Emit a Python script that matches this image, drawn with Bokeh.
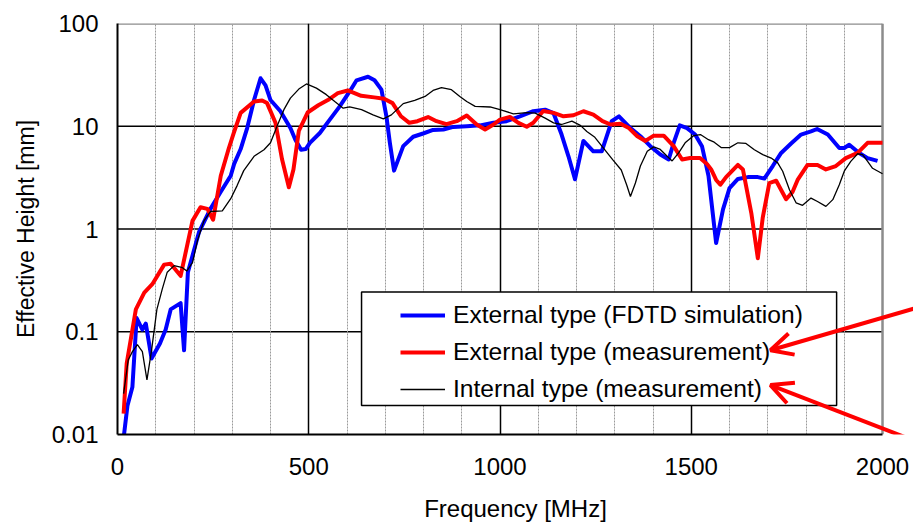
from bokeh.plotting import figure
from bokeh.models import (Range1d, FixedTicker, CustomJSTickFormatter, Legend, LegendItem,
                          BoxAnnotation, Arrow, OpenHead)
from bokeh.embed import file_html
from bokeh.resources import INLINE

# ---------------- data ----------------
fdtd_freq = [14, 26, 39, 50, 65, 74, 89, 111, 126, 139, 165, 174, 184, 196, 213, 243, 270, 296, 305,
             322, 339, 357, 374, 387, 400, 426, 452, 465, 480, 492, 503, 529, 555, 581, 607, 625, 655,
             672, 690, 703, 712, 723, 747, 773, 799, 825, 852, 878, 913, 948, 983, 1017, 1052, 1087,
             1118, 1140, 1161, 1179, 1196, 1218, 1244, 1266, 1292, 1311, 1341, 1367, 1393, 1419, 1441,
             1454, 1470, 1489, 1510, 1528, 1545, 1565, 1583, 1600, 1622, 1648, 1674, 1691, 1713, 1735,
             1761, 1787, 1813, 1829, 1857, 1887, 1900, 1913, 1939, 1961, 1987]
fdtd_height = [0.008, 0.019, 0.029, 0.136, 0.105, 0.12, 0.055, 0.077, 0.105, 0.165, 0.19, 0.066, 0.38,
               0.55, 0.93, 1.57, 2.3, 3.3, 4.3, 6.0, 9.6, 18, 29.3, 25, 18, 14, 9.6, 7.4, 5.9, 6.0, 6.9,
               8.6, 11.6, 15.6, 21.8, 28, 30.3, 28, 22.7, 12.5, 6.9, 3.7, 6.4, 7.9, 8.5, 9.2, 9.3, 9.85,
               10, 10.2, 10.8, 11.2, 12.5, 14, 14.5, 13.4, 8.3, 5.1, 3.05, 7.2, 5.7, 5.7, 11.2, 12.5,
               9.6, 8.0, 6.4, 5.3, 4.75, 6.9, 10.2, 9.6, 8.3, 6.4, 3.3, 0.73, 1.55, 2.5, 3.07, 3.2, 3.2,
               3.1, 4.1, 5.5, 6.8, 8.3, 8.9, 9.4, 8.3, 6.15, 6.15, 6.6, 5.5, 4.9, 4.6]

ext_meas_freq = [16, 24, 48, 70, 91, 122, 139, 165, 196, 217, 235, 250, 270, 291, 304, 322, 357, 378,
                 391, 413, 430, 448, 460, 474, 497, 525, 550, 576, 602, 637, 671, 697, 719, 741, 763,
                 784, 812, 834, 860, 887, 913, 939, 961, 983, 1000, 1026, 1048, 1070, 1087, 1113, 1140,
                 1166, 1192, 1218, 1244, 1268, 1289, 1315, 1337, 1359, 1380, 1402, 1428, 1454, 1476,
                 1497, 1523, 1541, 1552, 1565, 1576, 1591, 1622, 1635, 1657, 1674, 1687, 1704, 1722,
                 1748, 1765, 1778, 1804, 1830, 1852, 1878, 1904, 1935, 1961, 2000]
ext_meas_height = [0.016, 0.049, 0.165, 0.24, 0.29, 0.45, 0.46, 0.35, 1.2, 1.63, 1.57, 1.23, 3.3, 6.1,
                   8.6, 13.5, 17.4, 17.8, 16.8, 10.8, 4.8, 2.55, 3.8, 9.0, 13.6, 16, 18, 21, 22.3, 19.8,
                   19.1, 18.5, 16.8, 12.5, 10.8, 11.2, 12.3, 11.2, 10.5, 11.2, 12.7, 10.4, 9.3, 10.4,
                   11.6, 12.3, 10.8, 9.9, 10.8, 14.1, 13.5, 12.5, 12.8, 14, 13, 11.2, 10.4, 10.6, 9.6,
                   8.0, 7.2, 8.1, 8.1, 6.4, 4.75, 4.9, 4.9, 4.3, 3.8, 3.0, 2.7, 3.2, 4.2, 3.8, 1.43,
                   0.52, 1.3, 2.8, 2.95, 1.95, 2.3, 3.0, 4.2, 4.2, 3.8, 4.1, 4.9, 5.5, 6.9, 6.9]

int_meas_freq = [16, 28, 39, 52, 65, 77, 89, 103, 117, 130, 148, 170, 181, 196, 209, 226, 243, 274, 296,
                 313, 330, 357, 383, 400, 417, 435, 452, 474, 494, 520, 546, 568, 590, 607, 638, 668,
                 695, 716, 747, 777, 804, 825, 847, 873, 895, 913, 935, 974, 1000, 1035, 1070, 1092,
                 1118, 1140, 1161, 1188, 1210, 1227, 1248, 1271, 1295, 1317, 1331, 1341, 1354, 1367,
                 1385, 1402, 1419, 1437, 1450, 1467, 1484, 1506, 1524, 1545, 1560, 1578, 1600, 1622,
                 1643, 1665, 1687, 1709, 1726, 1739, 1757, 1774, 1791, 1813, 1830, 1852, 1870, 1887,
                 1900, 1917, 1935, 1948, 1961, 1974, 2000]
int_meas_height = [0.025, 0.053, 0.064, 0.075, 0.064, 0.034, 0.066, 0.165, 0.26, 0.38, 0.44, 0.42, 0.39,
                   0.47, 0.77, 1.2, 1.48, 1.5, 1.97, 2.66, 3.7, 5.1, 5.9, 6.9, 10, 14.5, 18.8, 23, 25.8,
                   23.5, 20.3, 17.4, 15, 15.4, 14.5, 12.9, 11.8, 12.9, 16.6, 17.9, 19.5, 22.3, 23.8,
                   22.7, 19.5, 17.4, 15.6, 15.4, 14.5, 13.2, 13.6, 13.4, 12, 10.8, 10.4, 11.2, 10.2,
                   8.9, 7.8, 6.1, 4.7, 3.75, 2.7, 2.07, 2.8, 4.1, 5.7, 6.3, 5.95, 5.1, 4.6, 5.5, 6.9,
                   8.1, 8.3, 7.4, 7.0, 6.2, 6.2, 6.9, 6.8, 5.9, 5.3, 4.9, 4.4, 3.65, 2.4, 1.8, 1.7, 2.0,
                   1.85, 1.66, 1.93, 2.7, 3.65, 4.55, 5.4, 5.3, 4.55, 3.9, 3.45]

series_labels = ["External type (FDTD simulation)", "External type (measurement)",
                 "Internal type (measurement)"]

x_ticks = [0, 500, 1000, 1500, 2000]
x_minor_ticks = [100, 200, 300, 400, 600, 700, 800, 900, 1100, 1200, 1300, 1400,
                 1600, 1700, 1800, 1900]
y_ticks = [0.01, 0.1, 1, 10, 100]
y_tick_labels = ["0.01", "0.1", "1", "10", "100"]

x_title = "Frequency [MHz]"
y_title = "Effective Height [mm]"

FONT = "Liberation Sans"
X_MIN, X_MAX = x_ticks[0], x_ticks[-1]
# the frame runs on to the page's right edge so that the red arrows can leave the plot area
X_VIEW_MAX = 2081

# ---------------- figure ----------------
p = figure(width=913, height=527, x_range=Range1d(X_MIN, X_VIEW_MAX), y_range=Range1d(y_ticks[0], y_ticks[-1]),
           y_axis_type="log", output_backend="svg", toolbar_location=None,
           min_border_left=117, min_border_right=0, min_border_top=23, min_border_bottom=93,
           background_fill_color="white", border_fill_color="white")
p.outline_line_color = None

# vertical grid (gray every 100 MHz, black every 500 MHz)
p.xgrid.ticker = FixedTicker(ticks=x_ticks[1:-1], minor_ticks=x_minor_ticks)
p.xgrid.grid_line_color = "black"
p.xgrid.grid_line_width = 1.5
p.xgrid.minor_grid_line_color = "#9a9a9a"
p.xgrid.minor_grid_line_width = 1
p.xgrid.minor_grid_line_dash = "2 1"

# horizontal decade lines limited to the plot area
p.ygrid.visible = False
inner_y = y_ticks[1:-1]
p.segment(x0=[X_MIN] * len(inner_y), x1=[X_MAX] * len(inner_y), y0=inner_y, y1=inner_y,
          line_color="black", line_width=1.5, level="underlay")
# top and right border of the plot area (gray)
p.segment(x0=[X_MIN, X_MAX], x1=[X_MAX, X_MAX], y0=[y_ticks[-1], y_ticks[0]], y1=[y_ticks[-1], y_ticks[-1]],
          line_color="#8c8c8c", line_width=2.5, level="underlay")

# axes
p.xaxis.ticker = FixedTicker(ticks=x_ticks, minor_ticks=[])
p.xaxis.bounds = (X_MIN, X_MAX)
p.yaxis.ticker = FixedTicker(ticks=y_ticks, minor_ticks=[])
p.yaxis.formatter = CustomJSTickFormatter(
    args=dict(yt=y_ticks, yl=y_tick_labels),
    code="""
    for (let i = 0; i < yt.length; i++) {
        if (Math.abs(Math.log10(yt[i]) - Math.log10(tick)) < 1e-6) return yl[i];
    }
    return '';
    """)

for ax in (p.xaxis[0], p.yaxis[0]):
    ax.axis_line_color = "black"
    ax.axis_line_width = 2
    ax.major_tick_line_color = None
    ax.minor_tick_line_color = None
    ax.major_tick_out = 0
    ax.major_tick_in = 0
    ax.major_label_text_font = FONT
    ax.major_label_text_font_size = "24px"
    ax.major_label_text_color = "black"
    ax.axis_label_text_font = FONT
    ax.axis_label_text_font_style = "normal"
    ax.axis_label_text_color = "black"

p.xaxis.axis_label = x_title
p.xaxis.axis_label_text_font_size = "24px"
p.xaxis.major_label_standoff = 23
p.xaxis.axis_label_standoff = 17

p.yaxis.axis_label = y_title
p.yaxis.axis_label_text_font_size = "23px"
p.yaxis.major_label_standoff = 19
p.yaxis.axis_label_standoff = 10

# curves
r_fdtd = p.line(fdtd_freq, fdtd_height, line_color="#0000ff", line_width=4, line_join="round")
r_ext = p.line(ext_meas_freq, ext_meas_height, line_color="#ff0000", line_width=4, line_join="round")
r_int = p.line(int_meas_freq, int_meas_height, line_color="black", line_width=1.3)

# legend frame
box = BoxAnnotation(left=638, right=1880, top=0.2437, bottom=0.0192,
                    fill_color="white", fill_alpha=1.0, line_color="black", line_alpha=1.0,
                    line_width=1.5)
p.add_layout(box)

legend = Legend(items=[LegendItem(label=series_labels[0], renderers=[r_fdtd]),
                       LegendItem(label=series_labels[1], renderers=[r_ext]),
                       LegendItem(label=series_labels[2], renderers=[r_int])],
                location=(281, 25), margin=0, padding=2, spacing=0,
                label_height=37, glyph_height=20, glyph_width=45, label_standoff=8,
                label_text_font=FONT, label_text_font_size="24.6px", label_text_color="black",
                border_line_alpha=0, background_fill_alpha=0)
p.add_layout(legend)

# red arrows pointing at the measurement entries
p.add_layout(Arrow(end=OpenHead(size=22, line_color="#ff0000", line_width=4),
                   x_start=2090, y_start=0.1716, x_end=1707, y_end=0.0661,
                   line_color="#ff0000", line_width=4))
p.add_layout(Arrow(end=OpenHead(size=22, line_color="#ff0000", line_width=4),
                   x_start=2090, y_start=0.0085, x_end=1707, y_end=0.0303,
                   line_color="#ff0000", line_width=4))

open("out.html", "w").write(file_html(p, INLINE))
